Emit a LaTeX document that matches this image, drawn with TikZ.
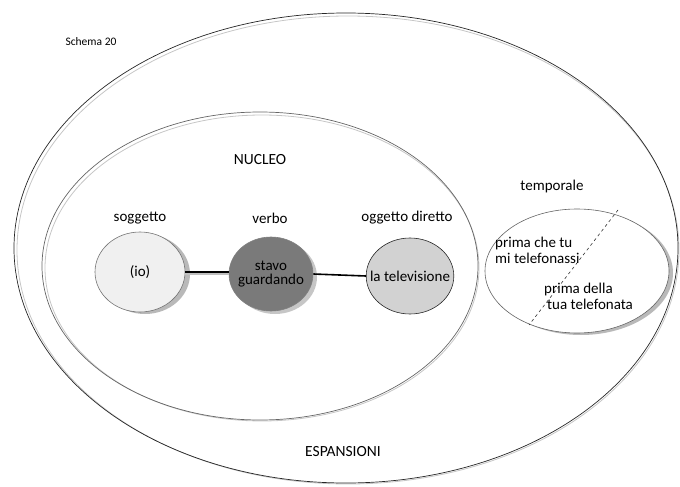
\documentclass[tikz,border=0pt]{standalone}
\usepackage{fontspec}
\setmainfont{Carlito}
\usetikzlibrary{shapes.geometric}
\begin{document}
\begin{tikzpicture}[x=1pt,y=-1pt,
  lbl/.style={font=\fontsize{15}{17}\selectfont, inner sep=0pt},
  bubble/.style={ellipse, draw=black!55, line width=0.6pt, inner xsep=-9pt, inner ysep=0pt,
    minimum width=90pt, minimum height=80pt, align=center,
    font=\fontsize{15}{17}\selectfont},
  bshadow/.style={fill=gray!55, draw=none},
  ring/.style={draw=black!85, line width=0.7pt},
  ringshadow/.style={draw=gray!45, line width=0.8pt},
  link/.style={line width=1.6pt, black},
  linkshadow/.style={line width=1.6pt, gray!50}
]
\useasboundingbox (0,0) rectangle (680,487);

% outer ring: expansions
\draw[ringshadow] (348,250) ellipse [x radius=331, y radius=234];
\draw[ring] (346,248) ellipse [x radius=332, y radius=235];

% inner ring: nucleus
\draw[ringshadow] (262,268) ellipse [x radius=217, y radius=153];
\draw[ring, draw=black!60] (260,266) ellipse [x radius=218, y radius=154];

% headings
\node[font=\fontsize{11.5}{13}\selectfont, inner sep=0pt] (schema) at (91,42) {Schema 20};
\node[lbl, font=\fontsize{15.5}{17}\selectfont] (nucleo) at (260,160) {NUCLEO};
\node[lbl, font=\fontsize{15.5}{17}\selectfont] (espansioni) at (343,452) {ESPANSIONI};
\node[lbl] (temporale) at (552,186) {temporale};

% column titles
\node[lbl] (tsogg) at (140,218) {soggetto};
\node[lbl] (tverbo) at (270,218) {verbo};
\node[lbl] (togg) at (407,218) {oggetto diretto};

% bubble shadows
\fill[bshadow] (145,274) ellipse [x radius=45, y radius=40];
\fill[gray!45] (275,277) ellipse [x radius=42, y radius=37];

% bubbles
\node[bubble, fill=gray!12, minimum width=90pt, minimum height=80pt] (io) at (140,272) {(io)};
\node[bubble, fill=black!52, draw=black!50, minimum width=84pt, minimum height=74pt] (vb) at (271,274) {stavo\\[-3pt]guardando};
\node[bubble, fill=gray!35, draw=black!85, minimum width=84pt, minimum height=76pt] (ogg) at (410,276) {la televisione};

% links between bubbles
\draw[linkshadow] ([yshift=-2pt]io.east) -- ([yshift=-2pt]io.east -| vb.west);
\draw[link] (io.east) -- (io.east -| vb.west);
\draw[link] (vb.east) -- (ogg.west);

% time expansion
\fill[gray!55] (581,273) ellipse [x radius=92, y radius=62];
\node[ellipse, draw=black!60, fill=white, line width=0.6pt, minimum width=184pt, minimum height=124pt] (temp) at (577,271) {};
\coordinate (dtop) at (618,210);
\coordinate (dbot) at (529,325);
\draw[dashed, black!80, line width=0.6pt] (dtop) -- (dbot);
\node[lbl, align=left, anchor=north west] (prima1) at (495,237) {prima che tu\\[-1pt]mi telefonassi};
\node[lbl, align=left, anchor=north west] (prima2) at (544,283) {prima della\\[-1pt]\hspace*{3pt}tua telefonata};
\end{tikzpicture}
\end{document}
